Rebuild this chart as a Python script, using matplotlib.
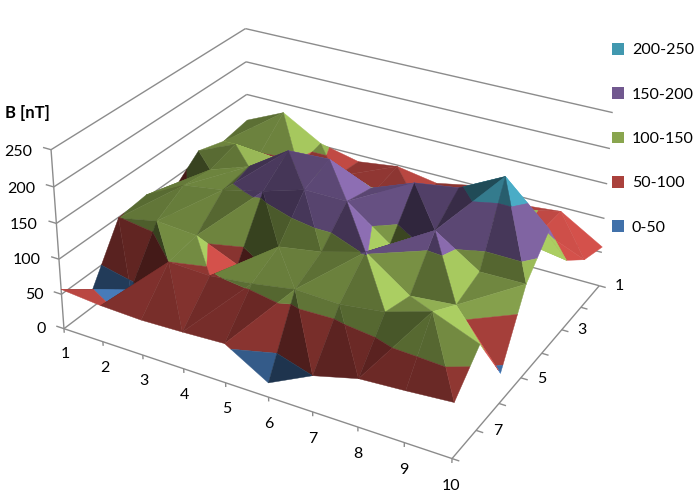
#!/usr/bin/env python3
"""Excel style 3D surface of B [nT] over a 10 x 8 grid, coloured in 50 nT bands."""

import matplotlib
matplotlib.use('Agg')
import matplotlib.pyplot as plt
from matplotlib.patches import Patch
from mpl_toolkits.mplot3d import proj3d
from mpl_toolkits.mplot3d.art3d import Line3DCollection, Poly3DCollection
import numpy as np

# ======================
# DATA
# ======================

x_labels = [1, 2, 3, 4, 5, 6, 7, 8, 9, 10]
y_labels = [1, 3, 5, 7]
z_ticks = [0, 50, 100, 150, 200, 250]

row_1 = [110, 136, 103, 90, 98, 88, 100, 88, 94, 58]
row_2 = [103, 100, 95, 95, 90, 90, 100, 110, 95, 70]
row_3 = [115, 140, 135, 125, 130, 115, 125, 140, 110, 100]
row_4 = [83, 129, 149, 187, 190, 165, 188, 197, 228, 173]
row_5 = [104, 134, 143, 157, 175, 175, 132, 168, 129, 130]
row_6 = [99, 111, 107, 82, 125, 135, 152, 110, 116, 42]
row_7 = [25, 42, 100, 98, 105, 115, 113, 121, 140, 116]
row_8 = [57, 52, 50, 52, 55, 20, 50, 66, 70, 75]

band_names = ['0-50', '50-100', '100-150', '150-200', '200-250']
band_edges = [0, 50, 100, 150, 200, 250]
band_colors = ['#4171AA', '#AA413C', '#89A54E', '#71588F', '#4198AF']

# ======================
# SETTINGS
# ======================

plt.rcParams['font.family'] = ['Lato', 'DejaVu Sans']
plt.rcParams['font.size'] = 11.5
W, H = 697, 501
GREY = '#8c8c8c'

# Where the box corners sit in the picture: (x, y, z) -> pixel
corners = [
    ((1, 8, 0), (65, 328)),
    ((10, 8, 0), (452, 459)),
    ((10, 1, 0), (600, 285)),
    ((1, 1, 0), (247, 190)),
    ((1, 8, 250), (50, 150)),
    ((1, 1, 250), (247, 28)),
    ((10, 1, 250), (612, 113)),
]

# ======================
# FUNCTIONS
# ======================

def fit_projection(ax):
    # Camera matrix from the corners, in the 2D coordinates of the axes
    ax.apply_aspect()
    rows = []
    for (x, y, z), (px, py) in corners:
        u, v = ax.transData.inverted().transform((px, H - py))
        p = [x, y, z, 1]
        rows.append(p + [0, 0, 0, 0] + [-u * c for c in p])
        rows.append([0, 0, 0, 0] + p + [-v * c for c in p])
    P = np.linalg.svd(np.array(rows, dtype=float))[2][-1].reshape(3, 4)
    P /= P[2] @ np.array([5.5, 4.5, 125, 1])
    # Depth grows with distance from the camera
    depth = P[2] - np.array([0, 0, 0, 0.5])
    return np.vstack([P[0], P[1], depth, P[2]])


def clip_band(tri, lo, hi):
    # Keep the part of a triangle between two heights
    poly = list(tri)
    for limit, sign in ((lo, 1), (hi, -1)):
        out = []
        for i, a in enumerate(poly):
            b = poly[(i + 1) % len(poly)]
            da, db = sign * (a[2] - limit), sign * (b[2] - limit)
            if da >= 0:
                out.append(a)
            if da * db < 0:
                out.append(a + (b - a) * da / (da - db))
        poly = out
        if not poly:
            break
    return poly


def shade(tri):
    # Facets turned to the right and back are lit, those turned to the front are dark
    a, b, c = tri
    n = np.cross(b - a, c - a)
    if n[2] < 0:
        n = -n
    n = n / n[2]
    nx, ny = n[0] * 0.017, n[1] * 0.02
    length = np.sqrt(nx ** 2 + ny ** 2 + 1)
    s = (0.85 * nx - 0.5 * ny) / length
    return np.interp(s, [-0.7, -0.55, -0.3, 0, 0.15, 0.4], [0.4, 0.52, 0.78, 0.85, 1.08, 1.25])


def surface_polys(z):
    polys, colors = [], []
    ny, nx = z.shape
    for j in range(ny - 1):
        for i in range(nx - 1):
            p = [np.array([i + 1 + di, j + 1 + dj, z[j + dj, i + di]], dtype=float)
                 for dj, di in ((0, 0), (0, 1), (1, 1), (1, 0))]
            # Split each cell along its higher diagonal
            if p[0][2] + p[2][2] >= p[1][2] + p[3][2]:
                tris = [(p[0], p[1], p[2]), (p[0], p[2], p[3])]
            else:
                tris = [(p[0], p[1], p[3]), (p[1], p[2], p[3])]
            for tri in tris:
                k = shade(tri)
                for b, col in enumerate(band_colors):
                    poly = clip_band(tri, band_edges[b], band_edges[b + 1])
                    if len(poly) >= 3:
                        rgb = np.clip(np.array(matplotlib.colors.to_rgb(col)) * k, 0, 1)
                        polys.append(poly)
                        colors.append(rgb)
    return polys, colors


def generate_graph():
    z = np.array([row_1, row_2, row_3, row_4, row_5, row_6, row_7, row_8], dtype=float)
    xmax, ymax = len(x_labels), z.shape[0]

    fig = plt.figure(figsize=(W / 100, H / 100), dpi=100)
    ax = fig.add_axes([0, (H - W) / 2 / H, 1, W / H], projection='3d', computed_zorder=False)
    ax.set_axis_off()

    M = fit_projection(ax)
    ax.get_proj = lambda: M

    def label(x, y, level, text, ha):
        # Tick labels are placed on the figure at the projected point
        u, v, _ = proj3d.proj_transform(x, y, level, M)
        px, py = ax.transData.transform((u, v))
        fig.text(px / W, py / H, text, ha=ha, va='center')

    # Walls, floor edges and ticks
    segments = []
    for level in z_ticks:
        segments.append([(1, ymax, level), (1, 1, level)])
        segments.append([(1, 1, level), (xmax, 1, level)])
        segments.append([(1, ymax, level), (0.8, ymax, level)])
        label(0.52, ymax, level - 10, str(level), 'right')
    segments.append([(1, ymax, 0), (1, ymax, 250)])
    segments.append([(1, ymax, 0), (xmax, ymax, 0)])
    segments.append([(xmax, ymax, 0), (xmax, 1, 0)])
    for val in x_labels:
        segments.append([(val, ymax, 0), (val, ymax, -6)])
        label(val, ymax, -38, str(val), 'center')
    for val in range(1, ymax + 1):
        segments.append([(xmax, val, 0), (xmax + 0.15, val, 0)])
    for val in y_labels:
        label(xmax + 0.35, val, 6, str(val), 'left')
    ax.add_collection3d(Line3DCollection(segments, colors=GREY, linewidths=1.0, zorder=1), autolim=False)

    # Surface
    polys, colors = surface_polys(z)
    surf = Poly3DCollection(polys, facecolors=colors, edgecolors=colors, linewidths=0.3, zorder=2)
    ax.add_collection3d(surf, autolim=False)

    # Axis title and legend
    fig.text(5 / W, 1 - 113 / H, 'B [nT]', fontweight='bold', fontsize=12, va='center')
    handles = [Patch(facecolor=c, edgecolor='none', label=n)
               for c, n in zip(band_colors[::-1], band_names[::-1])]
    fig.legend(handles=handles, loc='upper left', bbox_to_anchor=(612 / W, 1 - 43 / H),
               frameon=False, labelspacing=1.87, handlelength=0.75, handleheight=0.75,
               handletextpad=0.5, borderaxespad=0, borderpad=0)

    fig.savefig('out.png', dpi=100)


# ======================
# MAIN
# ======================

if __name__ == '__main__':
    generate_graph()
